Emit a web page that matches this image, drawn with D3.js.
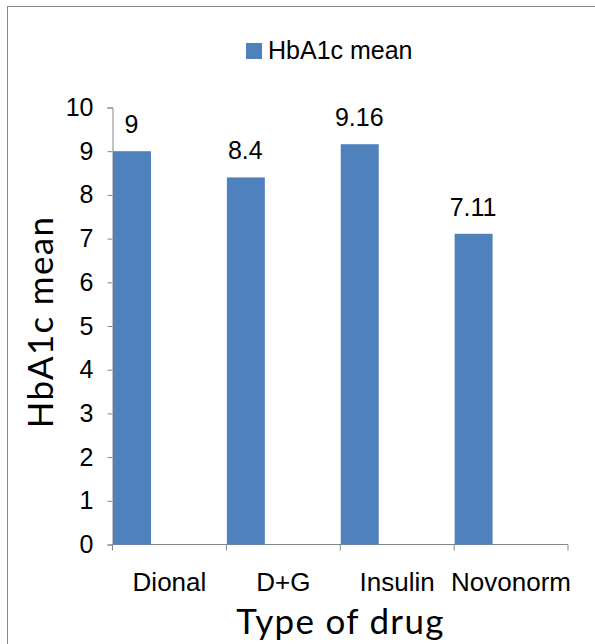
<!DOCTYPE html>
<html>
<head>
<meta charset="utf-8">
<script src="https://cdn.jsdelivr.net/npm/d3@7/dist/d3.min.js"></script>
<style>
  body { margin: 0; background: #fff; }
  .axis text { font-family: "Liberation Sans", Arial, sans-serif; fill: #000; }
  .axis path, .axis line { stroke: #868686; }
  .y-axis text { font-size: 25px; }
  .x-axis text { font-size: 26px; }
  .title { font-family: Lato, "Open Sans", sans-serif; font-size: 35px; letter-spacing: 1.3px; }
</style>
</head>
<body>
<script>
  // data
  var drugs = ["Dional", "D+G", "Insulin", "Novonorm"];
  var hba1c = [9, 8.4, 9.16, 7.11];
  var yTicks = [0, 1, 2, 3, 4, 5, 6, 7, 8, 9, 10];

  var w = 595, h = 644;
  var padL = 112.5, padR = 568, padT = 107.5, padB = 544.5;

  var svg = d3.select("body").append("svg")
    .attr("width", w)
    .attr("height", h);

  // outer frame
  svg.append("rect")
    .attr("x", 7.5).attr("y", 6.5)
    .attr("width", 600).attr("height", 660)
    .attr("fill", "none")
    .attr("stroke", "#888");

  var xScale = d3.scaleBand()
    .domain(drugs)
    .range([padL, padR]);

  var yScale = d3.scaleLinear()
    .domain([0, 10])
    .range([padB, padT]);

  var barW = xScale.bandwidth() / 3;

  // y axis
  var yAxis = d3.axisLeft(yScale).tickValues(yTicks).tickSize(5).tickPadding(14).tickSizeOuter(5);
  svg.append("g")
    .attr("class", "axis y-axis")
    .attr("transform", "translate(" + padL + ",0)")
    .call(yAxis);

  // x axis, ticks between categories
  var xg = svg.append("g")
    .attr("class", "axis x-axis")
    .attr("transform", "translate(0," + padB + ")");
  xg.append("line")
    .attr("x1", padL).attr("x2", padR)
    .attr("stroke", "#868686");
  var edges = drugs.map(function (d) { return xScale(d); }).concat([padR]);
  xg.selectAll(".tk").data(edges).enter().append("line")
    .attr("x1", function (d) { return d; })
    .attr("x2", function (d) { return d; })
    .attr("y1", 0).attr("y2", 6)
    .attr("stroke", "#868686");
  xg.selectAll(".lbl").data(drugs).enter().append("text")
    .attr("x", function (d) { return xScale(d) + xScale.bandwidth() / 2; })
    .attr("y", 46.5)
    .attr("text-anchor", "middle")
    .text(function (d) { return d; });

  // bars
  svg.selectAll(".bar").data(drugs).enter().append("rect")
    .attr("x", function (d) { return xScale(d) + 0.5; })
    .attr("y", function (d, i) { return yScale(hba1c[i]); })
    .attr("width", barW)
    .attr("height", function (d, i) { return padB - yScale(hba1c[i]); })
    .attr("fill", "#4F81BD");

  // value labels
  svg.selectAll(".val").data(drugs).enter().append("text")
    .attr("x", function (d) { return xScale(d) + barW / 2; })
    .attr("y", function (d, i) { return yScale(hba1c[i]) - 18; })
    .attr("text-anchor", "middle")
    .style("font-family", "Liberation Sans, Arial, sans-serif")
    .style("font-size", "25px")
    .text(function (d, i) { return hba1c[i]; });

  // legend
  svg.append("rect")
    .attr("x", 246).attr("y", 43)
    .attr("width", 16).attr("height", 16)
    .attr("fill", "#4F81BD");
  svg.append("text")
    .attr("x", 268).attr("y", 58.5)
    .style("font-family", "Liberation Sans, Arial, sans-serif")
    .style("font-size", "25px")
    .text("HbA1c mean");

  // axis titles
  svg.append("text")
    .attr("class", "title")
    .attr("transform", "translate(53,322) rotate(-90)")
    .attr("text-anchor", "middle")
    .text("HbA1c mean");

  svg.append("text")
    .attr("class", "title")
    .attr("x", 340.5)
    .attr("y", 634)
    .attr("text-anchor", "middle")
    .text("Type of drug");
</script>
</body>
</html>
